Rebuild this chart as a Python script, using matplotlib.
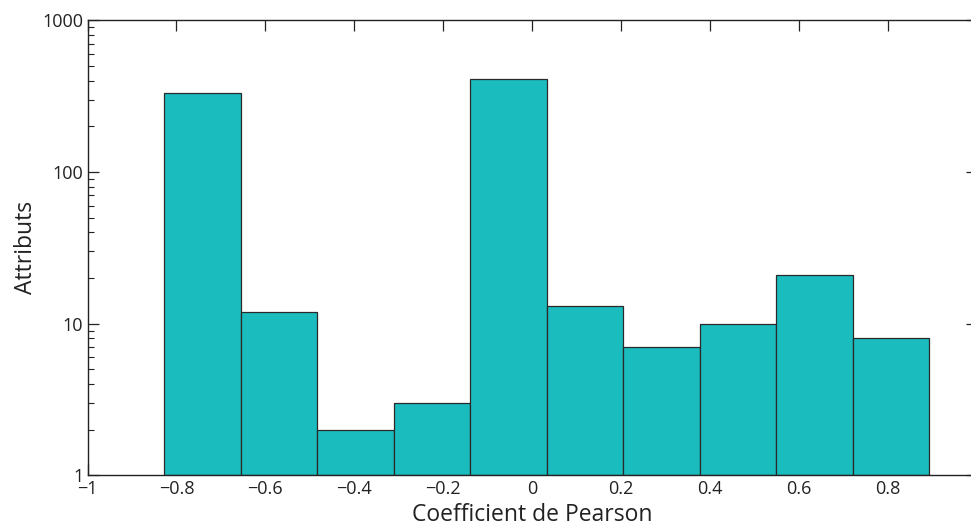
import numpy as np
import matplotlib
matplotlib.use("Agg")
import matplotlib.pyplot as plt
from matplotlib.ticker import FixedLocator, LogLocator, NullFormatter

# histogram (10 bins, log counts)
bin_left = -0.8276
bin_width = 0.1721
counts = [333, 12, 2, 3, 410, 13, 7, 10, 21, 8]

x_ticks = [-1, -0.8, -0.6, -0.4, -0.2, 0, 0.2, 0.4, 0.6, 0.8]
x_labels = ["\u22121", "\u22120.8", "\u22120.6", "\u22120.4", "\u22120.2", "0", "0.2", "0.4", "0.6", "0.8"]
y_ticks = [1, 10, 100, 1000]
y_labels = ["1", "10", "100", "1000"]

plt.rcParams['font.family'] = ['Open Sans', 'DejaVu Sans']
text_col = '#222222'

fig = plt.figure(figsize=(9.71, 5.23), dpi=100)
ax = fig.add_axes([87.5 / 971, 47.6 / 523, 889 / 971, 455.1 / 523])

lefts = bin_left + bin_width * np.arange(len(counts))
bars = ax.bar(lefts, counts, width=bin_width, align='edge', bottom=1,
              color='#1abcbe', edgecolor='#2a2a2a', linewidth=0.9, zorder=2)
# bottom=1 for the log axis; heights must end at the counts
for p, c in zip(bars.patches, counts):
    p.set_height(c - 1)

ax.set_yscale('log')
ax.set_xlim(-1, 1)
ax.set_ylim(1, 1000)
ax.set_axisbelow(True)

ax.xaxis.set_major_locator(FixedLocator(x_ticks))
ax.set_xticklabels(x_labels)
ax.yaxis.set_major_locator(FixedLocator(y_ticks))
ax.set_yticklabels(y_labels)
ax.yaxis.set_minor_locator(LogLocator(base=10, subs=np.arange(2, 10)))
ax.yaxis.set_minor_formatter(NullFormatter())

ax.tick_params(which='both', direction='in', top=True, right=True,
               colors='#222222', labelcolor=text_col, labelsize=13)
ax.tick_params(which='major', length=8, width=0.9, pad=3)
ax.tick_params(which='minor', length=4, width=0.8)
for s in ax.spines.values():
    s.set_color('#222222')
    s.set_linewidth(1.0)

ax.set_xlabel('Coefficient de Pearson', fontsize=16.5, color=text_col, labelpad=4)
ax.set_ylabel('Attributs', fontsize=16.5, color=text_col, labelpad=3)

fig.savefig('out.png', dpi=100)
